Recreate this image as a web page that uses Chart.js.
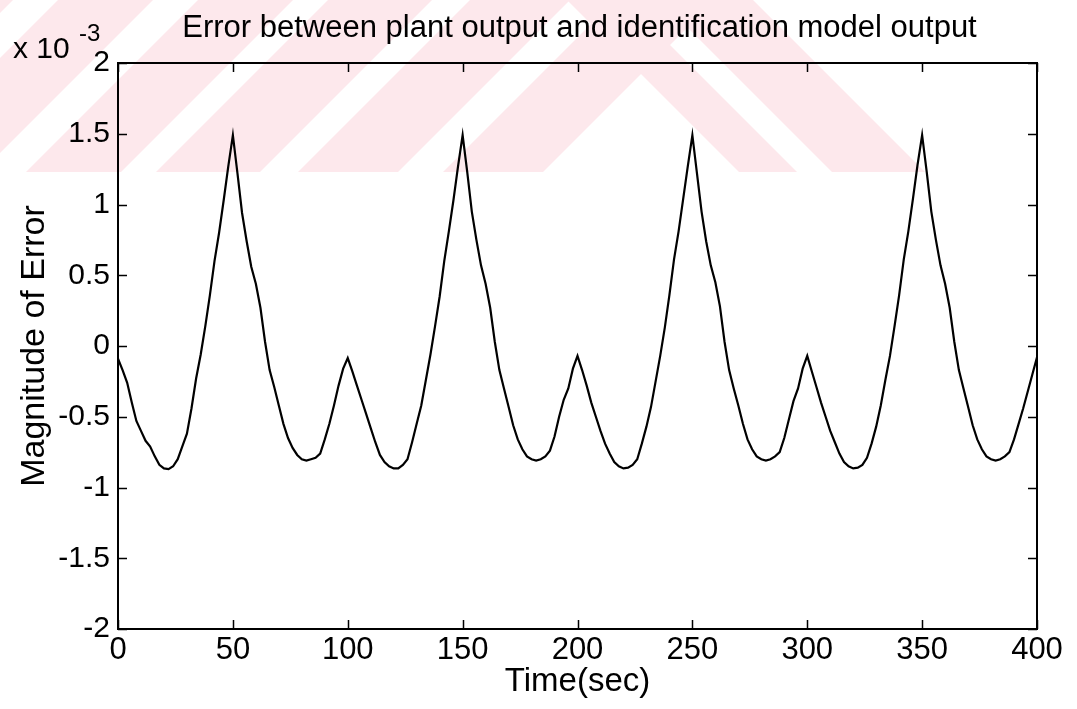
<!DOCTYPE html>
<html>
<head>
<meta charset="utf-8">
<script src="https://cdn.jsdelivr.net/npm/chart.js@4.4.0/dist/chart.umd.min.js"></script>
<style>
  html, body { margin: 0; padding: 0; background: #fff; }
  #wrap { width: 1077px; height: 709px; }
</style>
</head>
<body>
<div id="wrap"><canvas id="c" width="1077" height="709"></canvas></div>
<script>
// ---- data (error values in units of 10^-3) ----
const chartTitle = 'Error between plant output and identification model output';
const xAxisTitle = 'Time(sec)';
const yAxisTitle = 'Magnitude of Error';
const yScaleNote = 'x 10';
const yScaleExp = '-3';

const xTickValues = [0, 50, 100, 150, 200, 250, 300, 350, 400];
const xTickLabels = ['0', '50', '100', '150', '200', '250', '300', '350', '400'];
const yTickValues = [-2, -1.5, -1, -0.5, 0, 0.5, 1, 1.5, 2];
const yTickLabels = ['-2', '-1.5', '-1', '-0.5', '0', '0.5', '1', '1.5', '2'];

const timeSec = [
  0, 2, 4, 6, 8, 10, 12, 14, 16, 18, 20, 22, 24, 26, 28, 30, 32, 34, 36, 38,
  40, 42, 44, 46, 48, 50, 52, 54, 56, 58, 60, 62, 64, 66, 68, 70, 72, 74, 76, 78,
  80, 82, 84, 86, 88, 90, 92, 94, 96, 98,
  100, 102, 104, 106, 108, 110, 112, 114, 116, 118, 120, 122, 124, 126, 128, 130, 132, 134, 136, 138,
  140, 142, 144, 146, 148, 150, 152, 154, 156, 158, 160, 162, 164, 166, 168, 170, 172, 174, 176, 178,
  180, 182, 184, 186, 188, 190, 192, 194, 196, 198,
  200, 202, 204, 206, 208, 210, 212, 214, 216, 218, 220, 222, 224, 226, 228, 230, 232, 234, 236, 238,
  240, 242, 244, 246, 248, 250, 252, 254, 256, 258, 260, 262, 264, 266, 268, 270, 272, 274, 276, 278,
  280, 282, 284, 286, 288, 290, 292, 294, 296, 298,
  300, 302, 304, 306, 308, 310, 312, 314, 316, 318, 320, 322, 324, 326, 328, 330, 332, 334, 336, 338,
  340, 342, 344, 346, 348, 350, 352, 354, 356, 358, 360, 362, 364, 366, 368, 370, 372, 374, 376, 378,
  380, 382, 384, 386, 388, 390, 392, 394, 396, 398,
  400
];

const errorE3 = [
  // 0 - 98
  -0.09, -0.17, -0.26, -0.40, -0.53, -0.60, -0.67, -0.71, -0.78, -0.84, -0.865, -0.87, -0.85, -0.80, -0.71, -0.62, -0.44, -0.23, -0.06, 0.14,
  0.36, 0.60, 0.80, 1.03, 1.27, 1.49, 1.22, 0.94, 0.74, 0.56, 0.44, 0.27, 0.03, -0.17, -0.29, -0.42, -0.55, -0.65, -0.72, -0.77,
  -0.80, -0.81, -0.80, -0.79, -0.76, -0.66, -0.55, -0.42, -0.28, -0.16,
  // 100 - 198
  -0.085, -0.18, -0.28, -0.38, -0.48, -0.58, -0.68, -0.77, -0.82, -0.85, -0.865, -0.865, -0.84, -0.80, -0.68, -0.55, -0.42, -0.24, -0.06, 0.14,
  0.35, 0.60, 0.81, 1.03, 1.27, 1.49, 1.23, 0.95, 0.75, 0.57, 0.44, 0.27, 0.03, -0.17, -0.30, -0.43, -0.56, -0.66, -0.73, -0.78,
  -0.80, -0.81, -0.80, -0.78, -0.74, -0.64, -0.50, -0.38, -0.30, -0.16,
  // 200 - 298
  -0.07, -0.17, -0.28, -0.40, -0.50, -0.60, -0.69, -0.76, -0.82, -0.85, -0.865, -0.86, -0.84, -0.80, -0.69, -0.57, -0.43, -0.25, -0.07, 0.13,
  0.36, 0.61, 0.81, 1.04, 1.27, 1.49, 1.22, 0.95, 0.74, 0.57, 0.45, 0.28, 0.03, -0.17, -0.30, -0.42, -0.55, -0.66, -0.73, -0.78,
  -0.80, -0.81, -0.80, -0.78, -0.75, -0.65, -0.52, -0.39, -0.30, -0.16,
  // 300 - 398
  -0.07, -0.18, -0.29, -0.40, -0.50, -0.60, -0.68, -0.76, -0.82, -0.85, -0.865, -0.86, -0.84, -0.79, -0.69, -0.57, -0.42, -0.24, -0.07, 0.14,
  0.36, 0.61, 0.81, 1.04, 1.28, 1.49, 1.23, 0.95, 0.75, 0.57, 0.44, 0.27, 0.03, -0.17, -0.30, -0.43, -0.56, -0.66, -0.73, -0.78,
  -0.80, -0.81, -0.80, -0.78, -0.75, -0.66, -0.55, -0.44, -0.32, -0.20,
  // 400
  -0.08
];

// ---- styling ----
const FONT = "'Liberation Sans', Arial, Helvetica, sans-serif";
const WATERMARK = 'rgb(253, 232, 236)';

const points = timeSec.map((t, i) => ({ x: t, y: errorE3[i] }));

// watermark (scanned background decoration, pixel space)
const watermarkPlugin = {
  id: 'watermark',
  beforeDraw(chart) {
    const ctx = chart.ctx;
    ctx.save();
    ctx.fillStyle = '#ffffff';
    ctx.fillRect(0, 0, chart.width, chart.height);
    ctx.fillStyle = WATERMARK;
    const yb = 172;
    const slashBottoms = [[-254, -159], [-114, -19], [26, 121], [156, 260], [298, 398], [443, 543]];
    slashBottoms.forEach(([a, b]) => {
      ctx.beginPath();
      ctx.moveTo(a, yb); ctx.lineTo(b, yb); ctx.lineTo(b + yb, 0); ctx.lineTo(a + yb, 0);
      ctx.closePath(); ctx.fill();
    });
    const backBottoms = [[739, 797], [832, 925]];
    backBottoms.forEach(([a, b]) => {
      ctx.beginPath();
      ctx.moveTo(a, yb); ctx.lineTo(b, yb); ctx.lineTo(b - yb, 0); ctx.lineTo(a - yb, 0);
      ctx.closePath(); ctx.fill();
    });
    ctx.restore();
  }
};

// MATLAB-like frame, inward ticks, title and exponent note
const framePlugin = {
  id: 'frame',
  afterDraw(chart) {
    const ctx = chart.ctx;
    const { left, right, top, bottom } = chart.chartArea;
    const xs = chart.scales.x, ys = chart.scales.y;
    ctx.save();
    ctx.strokeStyle = '#000';
    ctx.lineWidth = 2;
    ctx.strokeRect(left, top, right - left, bottom - top);
    ctx.lineWidth = 1.5;
    const L = 9;
    ctx.beginPath();
    xTickValues.forEach(v => {
      const px = Math.round(xs.getPixelForValue(v)) + 0.5;
      ctx.moveTo(px, bottom); ctx.lineTo(px, bottom - L);
      ctx.moveTo(px, top); ctx.lineTo(px, top + L);
    });
    yTickValues.forEach(v => {
      const py = Math.round(ys.getPixelForValue(v)) + 0.5;
      ctx.moveTo(left, py); ctx.lineTo(left + L, py);
      ctx.moveTo(right, py); ctx.lineTo(right - L, py);
    });
    ctx.stroke();

    ctx.fillStyle = '#000';
    ctx.textBaseline = 'alphabetic';
    ctx.textAlign = 'center';
    ctx.font = '31px ' + FONT;
    ctx.fillText(chartTitle, (left + right) / 2 + 2, 37);

    ctx.textAlign = 'left';
    ctx.font = '30px ' + FONT;
    ctx.fillText(yScaleNote, 13, 58);
    ctx.font = '24px ' + FONT;
    ctx.fillText(yScaleExp, 79, 41);
    ctx.restore();
  }
};

new Chart(document.getElementById('c'), {
  type: 'line',
  data: {
    datasets: [{
      data: points,
      borderColor: '#000',
      borderWidth: 2.2,
      pointRadius: 0,
      tension: 0,
      fill: false
    }]
  },
  options: {
    responsive: false,
    animation: false,
    devicePixelRatio: 1,
    layout: { padding: { left: 0, right: 40, top: 63, bottom: 0 } },
    plugins: {
      legend: { display: false },
      title: { display: false },
      tooltip: { enabled: false }
    },
    scales: {
      x: {
        type: 'linear',
        min: 0, max: 400,
        afterFit(scale) { scale.height = 80; },
        afterBuildTicks(scale) { scale.ticks = xTickValues.map(v => ({ value: v })); },
        grid: { display: false, drawTicks: false },
        border: { display: false },
        ticks: {
          padding: 3,
          color: '#000',
          font: { family: FONT, size: 31 },
          maxRotation: 0,
          autoSkip: false,
          callback: (v) => xTickLabels[xTickValues.indexOf(v)]
        },
        title: {
          display: true,
          text: xAxisTitle,
          color: '#000',
          font: { family: FONT, size: 33 },
          padding: { top: 0, bottom: 7 }
        }
      },
      y: {
        type: 'linear',
        min: -2, max: 2,
        afterFit(scale) { scale.width = 118; },
        afterBuildTicks(scale) { scale.ticks = yTickValues.map(v => ({ value: v })); },
        grid: { display: false, drawTicks: false },
        border: { display: false },
        ticks: {
          padding: 8,
          color: '#000',
          font: { family: FONT, size: 30 },
          autoSkip: false,
          callback: (v) => yTickLabels[yTickValues.indexOf(v)]
        },
        title: {
          display: true,
          text: yAxisTitle,
          color: '#000',
          font: { family: FONT, size: 34 },
          padding: { top: 14, bottom: 0 }
        }
      }
    }
  },
  plugins: [watermarkPlugin, framePlugin]
});
</script>
</body>
</html>
